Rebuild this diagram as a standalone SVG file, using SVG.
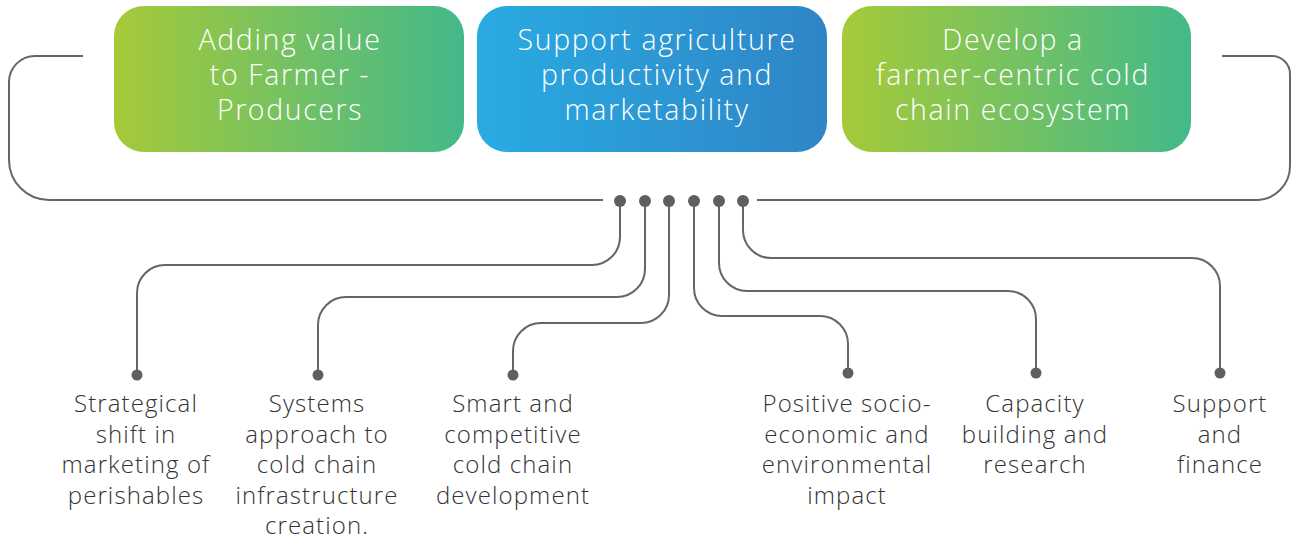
<svg xmlns="http://www.w3.org/2000/svg" width="1293" height="540" viewBox="0 0 1293 540">
  <defs>
    <linearGradient id="gGreen" x1="0" y1="0" x2="1" y2="0">
      <stop offset="0" stop-color="#a6ca39"/>
      <stop offset="1" stop-color="#43b98a"/>
    </linearGradient>
    <linearGradient id="gBlue" x1="0" y1="0" x2="1" y2="0">
      <stop offset="0" stop-color="#29abe2"/>
      <stop offset="1" stop-color="#2f85c6"/>
    </linearGradient>
    <style>
      .head { font-family: "Open Sans", "Liberation Sans", sans-serif; font-weight: 350; font-size: 28.5px; letter-spacing: 1.6px; fill: #ffffff; text-anchor: middle; }
      .lbl { font-family: "Open Sans", "Liberation Sans", sans-serif; font-weight: 350; font-size: 24px; letter-spacing: 1.1px; fill: #333333; text-anchor: middle; }
      .wire { fill: none; stroke: #666666; stroke-width: 2; }
      .dot { fill: #5f5f5f; }
    </style>
  </defs>

  <rect width="1293" height="540" fill="#ffffff"/>

  <!-- bracket and branch lines -->
  <g id="connectors">
    <path class="wire" d="M83,56 H35 A26,26 0 0 0 9,82 V160 A40,40 0 0 0 49,200 H603"/>
    <path class="wire" d="M1222,56 H1272 A18,18 0 0 1 1290,74 V166 A34,34 0 0 1 1256,200 H757"/>

    <path class="wire" d="M620,202 V237 A28,28 0 0 1 592,265 H165 A28,28 0 0 0 137,293 V375"/>
    <path class="wire" d="M645,202 V269 A28,28 0 0 1 617,297 H346 A28,28 0 0 0 318,325 V375"/>
    <path class="wire" d="M669,202 V295 A28,28 0 0 1 641,323 H541 A28,28 0 0 0 513,351 V375"/>
    <path class="wire" d="M694,202 V288 A28,28 0 0 0 722,316 H820 A28,28 0 0 1 848,344 V373"/>
    <path class="wire" d="M719,202 V263 A28,28 0 0 0 747,291 H1008 A28,28 0 0 1 1036,319 V373"/>
    <path class="wire" d="M743,202 V230 A28,28 0 0 0 771,258 H1192 A28,28 0 0 1 1220,286 V373"/>

    <circle class="dot" cx="620" cy="201" r="6"/>
    <circle class="dot" cx="645" cy="201" r="6"/>
    <circle class="dot" cx="669" cy="201" r="6"/>
    <circle class="dot" cx="694" cy="201" r="6"/>
    <circle class="dot" cx="719" cy="201" r="6"/>
    <circle class="dot" cx="743" cy="201" r="6"/>

    <circle class="dot" cx="137" cy="375" r="5.5"/>
    <circle class="dot" cx="318" cy="375" r="5.5"/>
    <circle class="dot" cx="513" cy="375" r="5.5"/>
    <circle class="dot" cx="848" cy="373" r="5.5"/>
    <circle class="dot" cx="1036" cy="373" r="5.5"/>
    <circle class="dot" cx="1220" cy="373" r="5.5"/>
  </g>

  <!-- headline boxes -->
  <g id="box-farmer-producers">
    <rect x="114" y="6" width="350" height="146" rx="30" fill="url(#gGreen)"/>
    <text class="head" x="290" y="50">Adding value</text>
    <text class="head" x="290" y="85">to Farmer -</text>
    <text class="head" x="290" y="120">Producers</text>
  </g>
  <g id="box-productivity">
    <rect x="477" y="6" width="350" height="146" rx="30" fill="url(#gBlue)"/>
    <text class="head" x="657" y="50">Support agriculture</text>
    <text class="head" x="657" y="85">productivity and</text>
    <text class="head" x="657" y="120">marketability</text>
  </g>
  <g id="box-cold-chain">
    <rect x="842" y="6" width="349" height="146" rx="30" fill="url(#gGreen)"/>
    <text class="head" x="1013" y="50">Develop a</text>
    <text class="head" x="1013" y="85">farmer-centric cold</text>
    <text class="head" x="1013" y="120">chain ecosystem</text>
  </g>

  <!-- outcome labels -->
  <g id="item-strategical-shift">
    <text class="lbl" x="136" y="412">Strategical</text>
    <text class="lbl" x="136" y="442.5">shift in</text>
    <text class="lbl" x="136" y="473">marketing of</text>
    <text class="lbl" x="136" y="503.5">perishables</text>
  </g>
  <g id="item-systems-approach">
    <text class="lbl" x="317" y="412">Systems</text>
    <text class="lbl" x="317" y="442.5">approach to</text>
    <text class="lbl" x="317" y="473">cold chain</text>
    <text class="lbl" x="317" y="503.5">infrastructure</text>
    <text class="lbl" x="317" y="534">creation.</text>
  </g>
  <g id="item-smart-competitive">
    <text class="lbl" x="513" y="412">Smart and</text>
    <text class="lbl" x="513" y="442.5">competitive</text>
    <text class="lbl" x="513" y="473">cold chain</text>
    <text class="lbl" x="513" y="503.5">development</text>
  </g>
  <g id="item-positive-impact">
    <text class="lbl" x="847" y="412">Positive socio-</text>
    <text class="lbl" x="847" y="442.5">economic and</text>
    <text class="lbl" x="847" y="473">environmental</text>
    <text class="lbl" x="847" y="503.5">impact</text>
  </g>
  <g id="item-capacity-building">
    <text class="lbl" x="1035" y="412">Capacity</text>
    <text class="lbl" x="1035" y="442.5">building and</text>
    <text class="lbl" x="1035" y="473">research</text>
  </g>
  <g id="item-support-finance">
    <text class="lbl" x="1220" y="412">Support</text>
    <text class="lbl" x="1220" y="442.5">and</text>
    <text class="lbl" x="1220" y="473">finance</text>
  </g>
</svg>
